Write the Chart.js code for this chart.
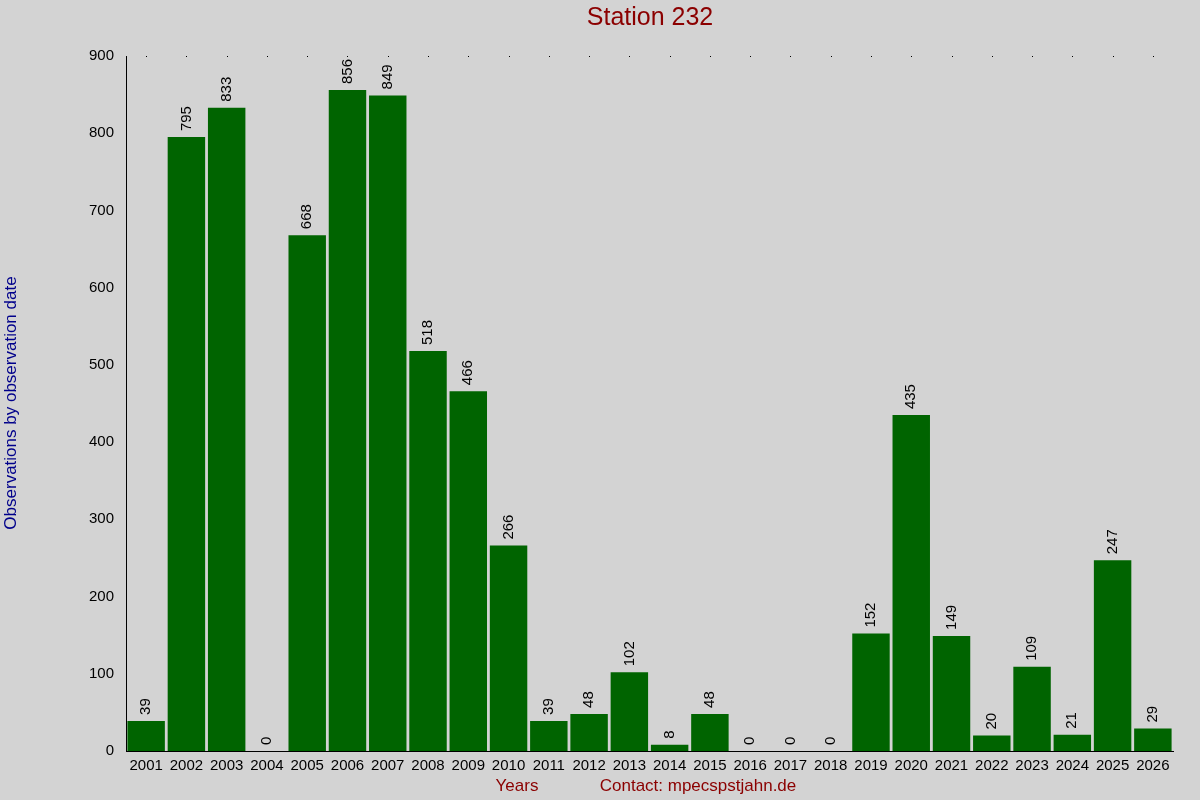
<!DOCTYPE html>
<html><head><meta charset="utf-8">
<script src="https://cdn.jsdelivr.net/npm/chart.js@4"></script>
<style>html,body{margin:0;padding:0;background:#d3d3d3}canvas{display:block}</style>
</head><body>
<canvas id="c" width="1200" height="800"></canvas>
<script>
const years = ["2001","2002","2003","2004","2005","2006","2007","2008","2009","2010","2011","2012","2013","2014","2015","2016","2017","2018","2019","2020","2021","2022","2023","2024","2025","2026"];
const observations = [39,795,833,0,668,856,849,518,466,266,39,48,102,8,48,0,0,0,152,435,149,20,109,21,247,29];
const chartTitle = "Station 232";
const yTitle = "Observations by observation date";
const xTitle = "Years";
const contact = "Contact: mpecspstjahn.de";
const FONT = "'Liberation Sans', Arial, sans-serif";

const deco = {
  id:'deco',
  beforeDraw(c){const x=c.ctx;x.save();x.fillStyle='#d3d3d3';x.fillRect(0,0,c.width,c.height);x.restore();},
  afterDraw(c){
    const ctx=c.ctx, xs=c.scales.x, ys=c.scales.y, meta=c.getDatasetMeta(0);
    ctx.save();
    ctx.textBaseline='middle';
    ctx.fillStyle='#8b0000'; ctx.font='25px '+FONT; ctx.textAlign='center';
    ctx.fillText(chartTitle,650,18);
    ctx.font='17px '+FONT;
    ctx.fillText(xTitle,517,786);
    ctx.fillText(contact,698,786);
    ctx.save(); ctx.translate(11,403); ctx.rotate(-Math.PI/2);
    ctx.fillStyle='#00008b'; ctx.fillText(yTitle,0,0); ctx.restore();
    // dots at top
    ctx.fillStyle='#000';
    years.forEach((y,i)=>{ctx.fillRect(Math.round(xs.getPixelForValue(i)),ys.getPixelForValue(900),1,1);});
    // value labels
    ctx.font='15px '+FONT; ctx.fillStyle='#000'; ctx.textAlign='left';
    meta.data.forEach((b,i)=>{
      ctx.save(); ctx.translate(b.x,b.y-6); ctx.rotate(-Math.PI/2);
      ctx.fillText(String(observations[i]),0,0); ctx.restore();
    });
    ctx.restore();
  }
};

new Chart(document.getElementById('c'),{
  type:'bar',
  data:{labels:years,datasets:[{data:observations,backgroundColor:'#006400',borderWidth:0,barPercentage:0.93,categoryPercentage:1}]},
  options:{
    responsive:false,animation:false,
    layout:{padding:{top:56,right:27,left:0,bottom:0}},
    plugins:{legend:{display:false},title:{display:false},tooltip:{enabled:false}},
    scales:{
      x:{grid:{display:false,drawTicks:false},border:{color:'#000'},
        ticks:{color:'#000',font:{size:15,family:FONT},padding:6,maxRotation:0,autoSkip:false},
        afterFit(s){s.height=49;}},
      y:{min:0,max:900,grid:{display:false,drawTicks:true,tickLength:6,color:'#000'},border:{color:'#000'},
        ticks:{stepSize:100,color:'#000',font:{size:15,family:FONT},padding:6},
        afterFit(s){s.width=126;}}
    }
  },
  plugins:[deco]
});
</script>
</body></html>
